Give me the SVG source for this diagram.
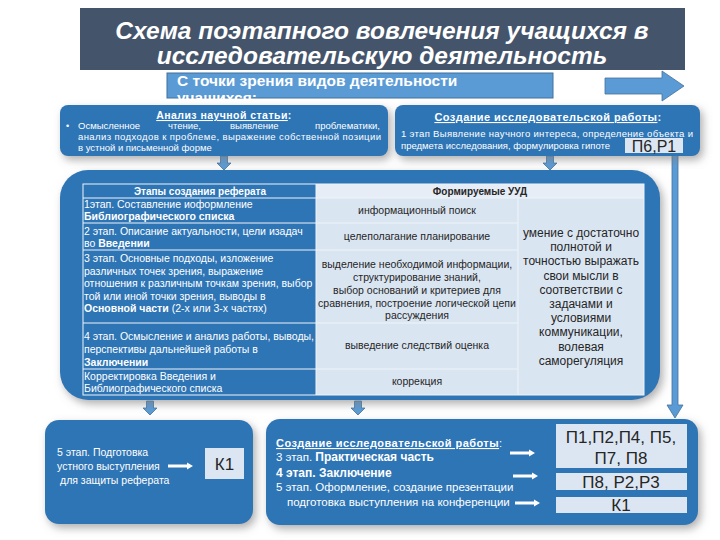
<svg xmlns="http://www.w3.org/2000/svg" width="720" height="540" viewBox="0 0 720 540">
<defs>
<filter id="sh" x="-10%" y="-10%" width="125%" height="135%">
<feDropShadow dx="3" dy="4" stdDeviation="4" flood-color="#7a7a7a" flood-opacity="0.6"/>
</filter>
<path id="wArr" d="M0,-1.5 H19 V-3.5 L25,0 L19,3.5 V1.5 H0 Z" fill="#fff"/>
<path id="dArr" d="M-3.5,0 H3.5 V7 H7 L0,14 L-7,7 H-3.5 Z"/>
</defs>
<style>
text{font-family:"Liberation Sans",Arial,sans-serif}
.box{fill:#2E75B6;filter:url(#sh)}
.arr{fill:#5B9BD5;stroke:#41719C;stroke-width:0.8}
.w{fill:#fff}
.d{fill:#262626}
.lt{fill:#DCE6F2}
.grid{stroke:#EEF3F9;stroke-width:1;fill:none}
.c1{font-size:10.5px;fill:#fff}
.c2{font-size:10.5px;fill:#262626;text-anchor:middle}
.c3{font-size:12px;fill:#262626;text-anchor:middle}
.big{font-size:17px;fill:#262626;text-anchor:middle}
.sp{letter-spacing:0.45px}
</style>
<rect width="720" height="540" fill="#fff"/>

<g id="subtitle">
<rect x="167" y="73" width="386" height="25" fill="#5B9BD5" stroke="#41719C" stroke-width="1"/>
<text x="177" y="86" font-size="15.5" font-weight="bold" class="w">С точки зрения видов деятельности</text>
<text x="177" y="103" font-size="15.5" font-weight="bold" class="w">учащихся:</text>
</g>

<g id="title">
<rect x="80" y="8" width="605" height="62" fill="#44546A"/>
<text x="382" y="39" font-size="24.5" font-weight="bold" font-style="italic" text-anchor="middle" class="w">Схема поэтапного вовлечения учащихся в</text>
<text x="382" y="64" font-size="24.5" font-weight="bold" font-style="italic" text-anchor="middle" class="w">исследовательскую деятельность</text>
</g>

<g id="connectors">
<path class="arr" d="M605,78 H662 V71 L684,86 L662,101 V94 H605 Z"/>
<use href="#dArr" x="224" y="156" class="arr"/>
<use href="#dArr" x="550" y="156" class="arr"/>
<path class="arr" d="M672,155 H678 V405 H683 L675,418 L667,405 H672 Z"/>
<use href="#dArr" x="150" y="401" class="arr"/>
<use href="#dArr" x="358" y="401" class="arr"/>
</g>

<g id="analysis">
<rect x="60" y="105" width="328" height="51" rx="8" class="box"/>
<text x="224" y="119" font-size="10.5" font-weight="bold" text-anchor="middle" class="w sp"><tspan text-decoration="underline">Анализ научной статьи</tspan>:</text>
<text x="66" y="129" font-size="9" class="w">•</text>
<text y="129" font-size="9.5" class="w"><tspan x="78">Осмысленное</tspan><tspan x="168">чтение,</tspan><tspan x="230">выявление</tspan></text>
<text x="380" y="129" font-size="9.5" text-anchor="end" class="w">проблематики,</text>
<text x="78" y="140" font-size="9.5" class="w" textLength="303" lengthAdjust="spacing">анализ подходов к проблеме, выражение собственной позиции</text>
<text x="78" y="151" font-size="9.5" class="w">в устной и письменной форме</text>
</g>

<g id="research1">
<rect x="395" y="105" width="305" height="51" rx="8" class="box"/>
<text x="548" y="121" font-size="11" font-weight="bold" text-anchor="middle" class="w sp"><tspan text-decoration="underline">Создание исследовательской работы</tspan>:</text>
<text x="401" y="137" font-size="9.5" class="w" textLength="292" lengthAdjust="spacing">1 этап Выявление научного интереса, определение объекта и</text>
<text x="401" y="149" font-size="9.5" class="w">предмета исследования, формулировка гипоте</text>
<rect x="625" y="138" width="58" height="15" class="lt"/>
<text x="654" y="152" font-size="16" text-anchor="middle" class="d">П6,Р1</text>
</g>

<g id="stagesTable">
<rect x="60" y="170" width="600" height="230" rx="28" class="box"/>
<rect x="316" y="184" width="328" height="14" fill="#E6EDF6"/>
<rect x="316" y="198" width="328" height="197" fill="#DAE5F2"/>
<rect x="83" y="184" width="561" height="211" class="grid"/>
<path class="grid" d="M83,198 H644 M83,223 H518 M83,250 H518 M83,323 H518 M83,369 H518 M316,184 V395 M518,198 V395"/>
<text x="200" y="195" font-size="10" font-weight="bold" text-anchor="middle" class="w">Этапы создания реферата</text>
<text x="480" y="195" font-size="10" font-weight="bold" text-anchor="middle" class="d">Формируемые УУД</text>

<text x="84" y="208" class="c1">1этап.   Составление иоформление</text>
<text x="84" y="220" class="c1" font-weight="bold">Библиографического списка</text>
<text x="84" y="235" class="c1">2 этап. Описание актуальности, цели изадач</text>
<text x="84" y="247" class="c1">во <tspan font-weight="bold">Введении</tspan></text>
<text x="84" y="262" class="c1">3 этап.   Основные подходы, изложение</text>
<text x="84" y="274.5" class="c1">различных точек зрения, выражение</text>
<text x="84" y="287" class="c1">отношения к различным точкам зрения, выбор</text>
<text x="84" y="299.5" class="c1">той или иной точки зрения, выводы в</text>
<text x="84" y="312" class="c1"><tspan font-weight="bold">Основной части</tspan> (2-х или 3-х частях)</text>
<text x="84" y="340" class="c1">4 этап. Осмысление и анализ работы, выводы,</text>
<text x="84" y="353" class="c1">перспективы дальнейшей работы в</text>
<text x="84" y="366" class="c1" font-weight="bold">Заключении</text>
<text x="84" y="380" class="c1">Корректировка Введения и</text>
<text x="84" y="392" class="c1">Библиографического списка</text>

<text x="417" y="214" class="c2">информационный поиск</text>
<text x="417" y="240" class="c2">целеполагание    планирование</text>
<text x="417" y="268" class="c2">выделение необходимой информации,</text>
<text x="417" y="281" class="c2">структурирование знаний,</text>
<text x="417" y="294" class="c2">выбор оснований и критериев для</text>
<text x="417" y="307" class="c2">сравнения,  построение логической цепи</text>
<text x="417" y="319" class="c2">рассуждения</text>
<text x="417" y="349" class="c2">выведение следствий  оценка</text>
<text x="417" y="385" class="c2">коррекция</text>

<text x="581" y="237" class="c3">умение с достаточно</text>
<text x="581" y="251" class="c3">полнотой и</text>
<text x="581" y="265" class="c3">точностью выражать</text>
<text x="581" y="280" class="c3">свои мысли в</text>
<text x="581" y="294" class="c3">соответствии с</text>
<text x="581" y="308" class="c3">задачами и</text>
<text x="581" y="322" class="c3">условиями</text>
<text x="581" y="336" class="c3">коммуникации,</text>
<text x="581" y="351" class="c3">волевая</text>
<text x="581" y="365" class="c3">саморегуляция</text>
</g>

<g id="stage5">
<rect x="45" y="420" width="208" height="104" rx="14" class="box"/>
<text x="57" y="456" font-size="10.5" class="w">5 этап. Подготовка</text>
<text x="57" y="470" font-size="10.5" class="w">устного выступления</text>
<text x="60" y="484" font-size="10.5" class="w">для защиты реферата</text>
<use href="#wArr" x="168" y="466"/>
<rect x="205" y="448" width="39" height="31" class="lt"/>
<text x="224.5" y="470" class="big">К1</text>
</g>

<g id="research2">
<rect x="266" y="419" width="432" height="106" rx="14" class="box"/>
<text x="276" y="447" font-size="11" font-weight="bold" class="w sp"><tspan text-decoration="underline">Создание исследовательской работы</tspan><tspan font-weight="normal">:</tspan></text>
<text x="276" y="461" font-size="11.5" class="w">3 этап. <tspan font-weight="bold" font-size="12">Практическая часть</tspan></text>
<text x="276" y="477" font-size="12" font-weight="bold" class="w">4 этап. Заключение</text>
<text x="276" y="491" font-size="11.5" class="w">5 этап. Оформление, создание презентации</text>
<text x="287" y="506" font-size="11.5" class="w">подготовка выступления на конференции</text>
<use href="#wArr" x="510" y="453"/>
<use href="#wArr" x="513" y="476"/>
<use href="#wArr" x="515" y="503"/>
<rect x="556" y="424" width="131" height="44" class="lt"/>
<text x="621" y="443" class="big">П1,П2,П4, П5,</text>
<text x="621" y="464" class="big">П7, П8</text>
<rect x="556" y="473" width="131" height="17" class="lt"/>
<text x="621" y="488" class="big">П8, Р2,Р3</text>
<rect x="556" y="497" width="131" height="16" class="lt"/>
<text x="621" y="511" class="big">К1</text>
</g>
</svg>
